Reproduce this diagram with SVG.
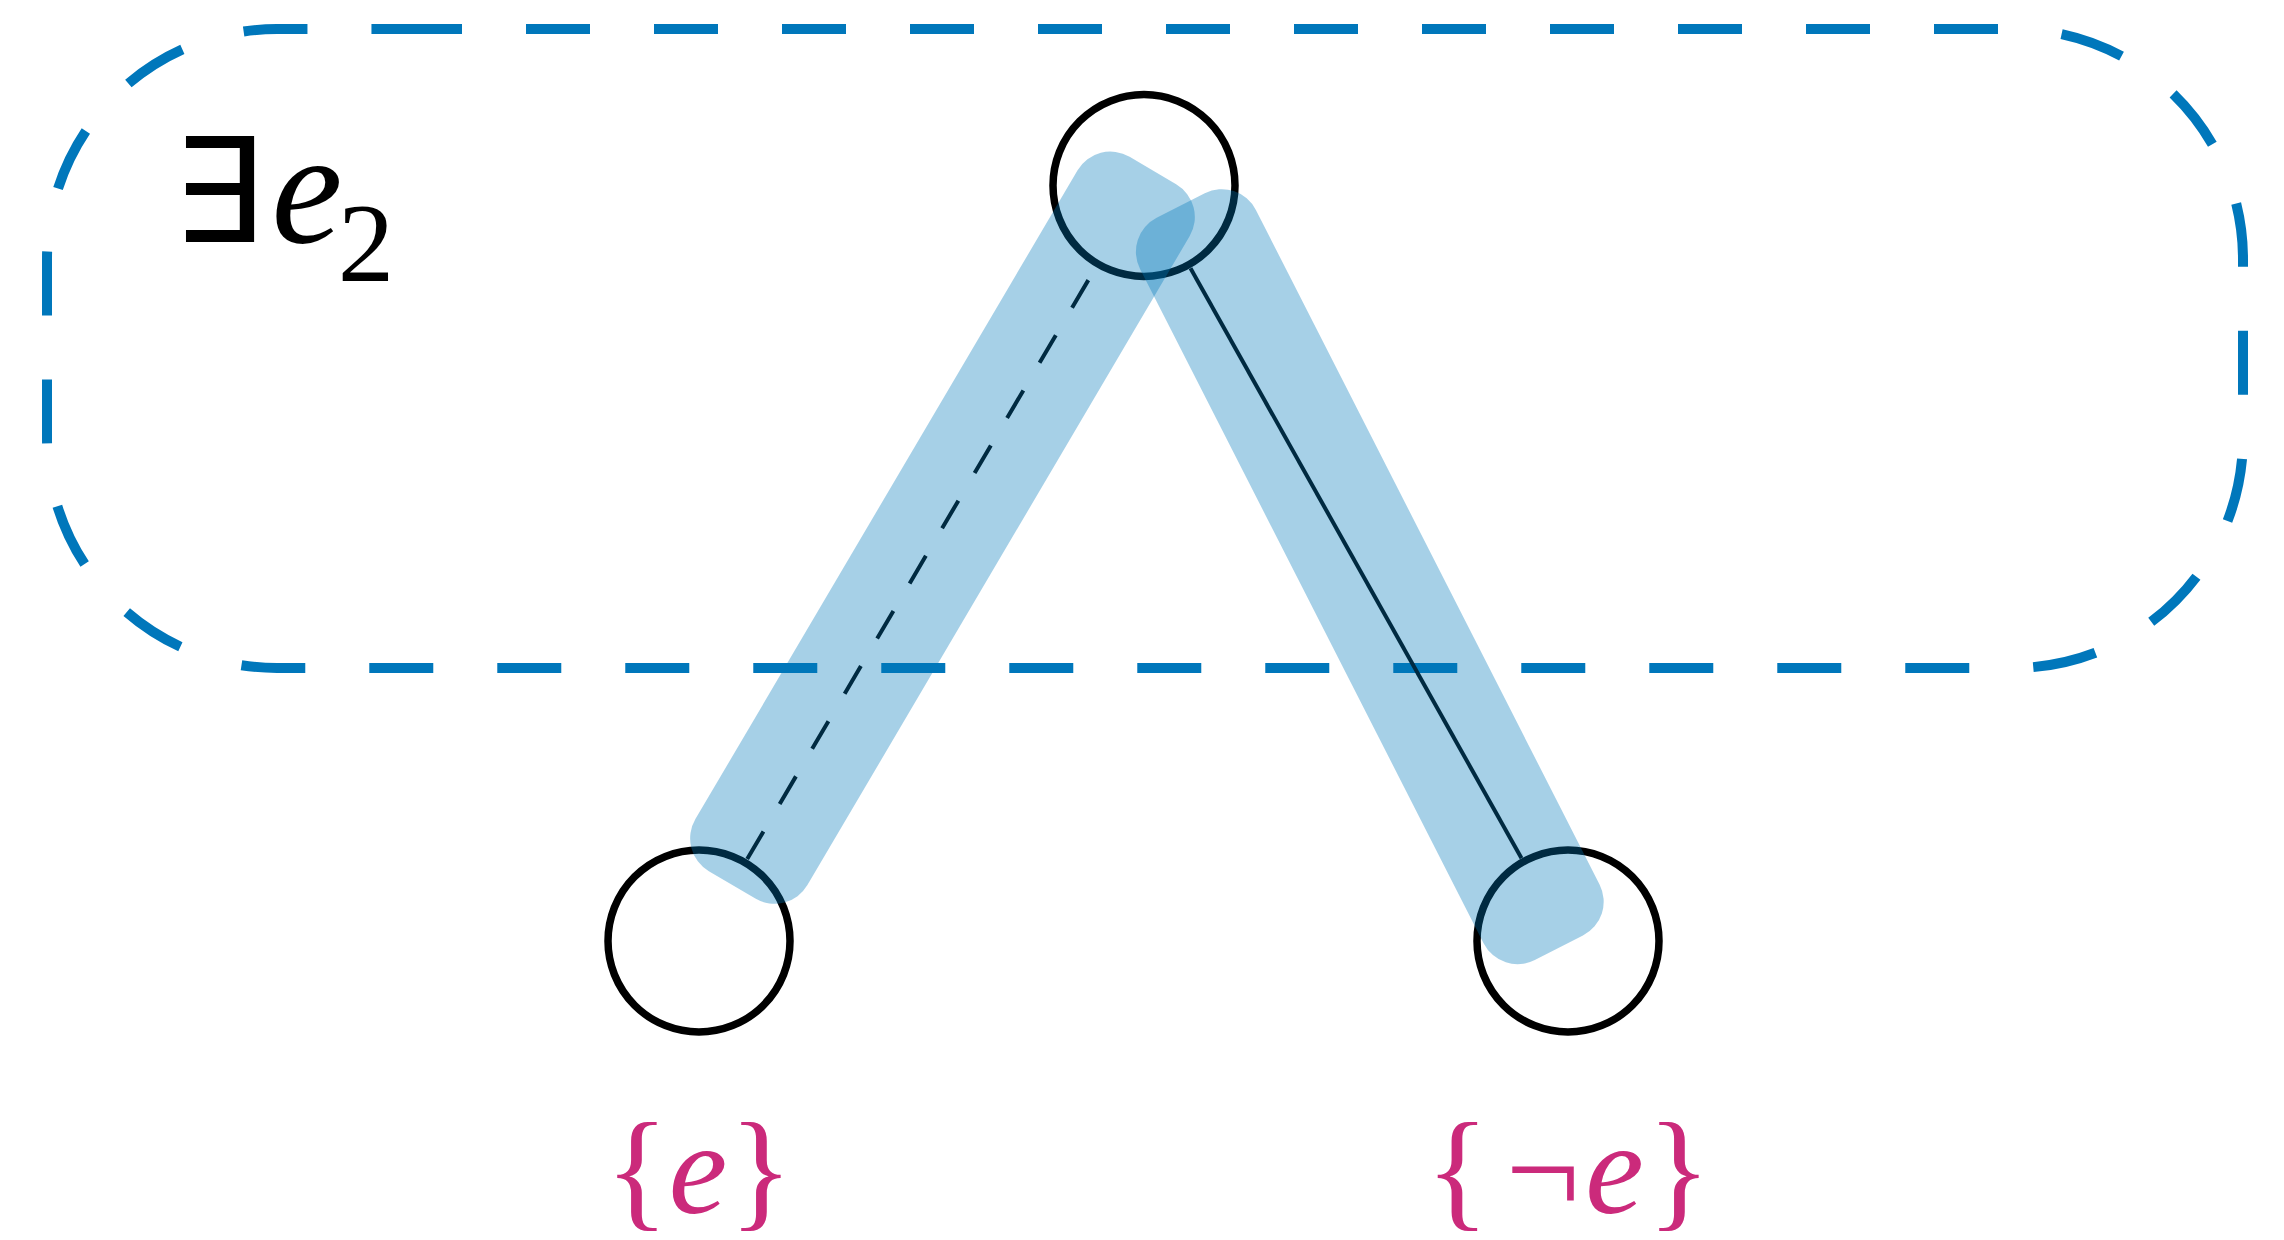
<svg xmlns="http://www.w3.org/2000/svg" width="2284" height="1240" viewBox="0 0 2284 1240">
  <style>
    .region { fill: none; stroke: #0077bb; stroke-width: 10; stroke-dasharray: 64 64; }
    .node { fill: none; stroke: #000000; stroke-width: 7.5; }
    .edge { fill: none; stroke: #000000; stroke-width: 4; }
    .dashed { stroke-dasharray: 32 32; }
    .band { fill: #0077bb; fill-opacity: 0.35; }
    .serif { font-family: 'Liberation Serif', 'Times New Roman', Times, serif; }
    .lbl { fill: #cb2a7b; font-size: 132px; text-anchor: middle; }
    .it { font-style: italic; }
  </style>
  <rect width="2284" height="1240" fill="#ffffff"/>

  <g id="region-e2">
    <path class="region" d="M398,29 H2013 A230,230 0 0 1 2243,259 V438 A230,230 0 0 1 2013,668 H277 A230,230 0 0 1 47,438 V259 A230,230 0 0 1 277,29 Z"/>
    <text fill="#000000" text-anchor="middle" font-size="160"><tspan x="217.5" y="242" font-family="'DejaVu Sans', sans-serif" font-size="145">∃</tspan><tspan x="307" y="242" class="serif it">e</tspan><tspan x="366" y="281" class="serif" font-size="113">2</tspan></text>
  </g>

  <g id="connectors">
    <line id="edge-top-left" class="edge dashed" x1="747.2" y1="859.1" x2="1095.8" y2="267.4"/>
    <line id="edge-top-right" class="edge" x1="1190.5" y1="268.3" x2="1521.5" y2="858.2"/>
  </g>

  <g id="node-top">
    <circle class="node" cx="1144" cy="185.5" r="91"/>
  </g>
  <g id="node-left">
    <circle class="node" cx="699" cy="941" r="91"/>
    <text class="lbl serif" y="1213"><tspan x="637">{</tspan><tspan x="698" class="it">e</tspan><tspan x="761">}</tspan></text>
  </g>
  <g id="node-right">
    <circle class="node" cx="1568" cy="941" r="91"/>
    <text class="lbl serif" y="1213"><tspan x="1457.5">{</tspan><tspan x="1543">¬</tspan><tspan x="1614.5" class="it">e</tspan><tspan x="1679">}</tspan></text>
  </g>

  <g id="highlights">
    <rect class="band" x="-414.5" y="-65" width="829" height="130" rx="38" transform="translate(942.5,527.7) rotate(-59.5)"/>
    <rect class="band" x="-416.5" y="-65" width="833" height="130" rx="38" transform="translate(1369.8,576.7) rotate(63)"/>
  </g>
</svg>
